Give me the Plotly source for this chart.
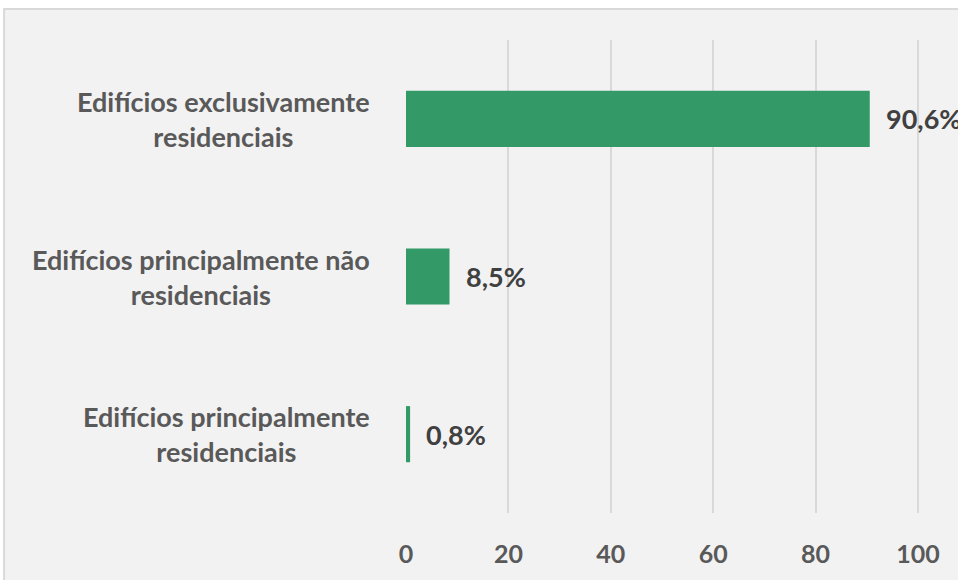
import plotly.graph_objects as go

categories = [
    "Edifícios principalmente<br>residenciais",
    "Edifícios principalmente não<br>residenciais",
    "Edifícios exclusivamente<br>residenciais",
]
values = [0.8, 8.5, 90.6]
tick_vals = [0, 20, 40, 60, 80, 100]

labels = [f"{v:.1f}".replace(".", ",") + "%" for v in values]

W, H = 958, 580
XMAX = 101
ml, mt = 406, 40
pw, ph = 512 * XMAX / 100, 473
mr = W - ml - pw
mb = H - mt - ph

txt_color = "#595959"
font_family = "Lato, 'Open Sans', sans-serif"

fig = go.Figure()
fig.add_trace(go.Bar(
    x=values, y=categories, orientation="h",
    marker=dict(color="#339966", line=dict(width=0)),
    width=0.356, cliponaxis=False,
))

for c in categories:
    fig.add_annotation(
        x=0, xref="paper", y=c, yref="y", xanchor="right", yanchor="middle",
        xshift=-34, align="center", showarrow=False, text=c,
        font=dict(family=font_family, size=27, color=txt_color, weight="bold"),
    )

for c, v, t in zip(categories, values, labels):
    fig.add_annotation(
        x=v, xref="x", y=c, yref="y", xanchor="left", yanchor="middle",
        xshift=14, showarrow=False, text=t,
        font=dict(family=font_family, size=27, color="#404040", weight="bold"),
    )

# chart frame (extends past right and bottom edges, as in the reference)
fig.add_shape(type="rect", xref="paper", yref="paper", layer="below",
              x0=(4 - ml) / pw, x1=(W + 40 - ml) / pw,
              y0=-(H + 40 - mt - ph) / ph, y1=(mt - 9 + ph) / ph,
              fillcolor="#f2f2f2", line=dict(color="#d9d9d9", width=2))

fig.update_layout(
    width=W, height=H,
    margin=dict(l=ml, r=mr, t=mt, b=mb),
    paper_bgcolor="white", plot_bgcolor="#f2f2f2",
    showlegend=False,
    xaxis=dict(range=[0, XMAX], tickvals=tick_vals, showgrid=True, gridcolor="#d9d9d9",
               gridwidth=1.5, zeroline=False, showline=False, ticks="",
               ticklabelstandoff=24,
               tickfont=dict(family=font_family, size=25, color=txt_color, weight="bold")),
    yaxis=dict(showticklabels=False, showgrid=False, zeroline=False, showline=False,
               range=[-0.5, 2.5]),
)

fig.write_html(
    "out.html",
    config={"displayModeBar": False},
    post_script="document.body.style.margin='0';document.body.style.overflow='hidden';",
)
